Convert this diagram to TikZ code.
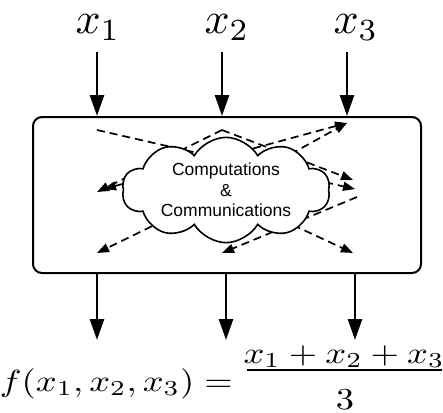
\documentclass[tikz,border=0pt]{standalone}
\usepackage{graphicx}
\usepackage{fontspec}
\newfontfamily\cloudfont{Liberation Sans}
\usetikzlibrary{arrows.meta,shapes.symbols}
\tikzset{
  bigarrow/.style={line width=2.6pt,-{Triangle[length=21pt,width=14pt]}},
  commline/.style={line width=1.7pt,dash pattern=on 8pt off 5pt},
  commtip/.style={-{Triangle[length=12pt,width=9pt]}},
  mainbox/.style={draw,line width=2pt,rounded corners=9pt},
  biglabel/.style={inner sep=0pt},
  formula/.style={inner sep=0pt},
}
\newcommand{\bigmath}[1]{\scalebox{4.4}{$#1$}}
\newcommand{\fmath}[1]{\scalebox{3.65}[3.05]{$#1$}}
\begin{document}
\begin{tikzpicture}[x=1pt,y=-1pt]
\useasboundingbox (0,0) rectangle (443,412);
% box
\draw[mainbox] (33,117) rectangle (421,273);
% labels
\node[biglabel,anchor=base] (x1) at (98,34) {\bigmath{x_1}};
\node[biglabel,anchor=base] (x2) at (227,34) {\bigmath{x_2}};
\node[biglabel,anchor=base] (x3) at (356,34) {\bigmath{x_3}};
% top arrow coordinates
\coordinate (a1s) at (97,52);  \coordinate (a1e) at (97,116);
\coordinate (a2s) at (222,52); \coordinate (a2e) at (222,116);
\coordinate (a3s) at (347,52); \coordinate (a3e) at (347,116);
\draw[bigarrow] (a1s) -- (a1e);
\draw[bigarrow] (a2s) -- (a2e);
\draw[bigarrow] (a3s) -- (a3e);
% bottom arrows
\coordinate (b1s) at (97,274);  \coordinate (b1e) at (97,340);
\coordinate (b2s) at (226,274); \coordinate (b2e) at (226,340);
\coordinate (b3s) at (355,274); \coordinate (b3e) at (355,340);
\draw[bigarrow] (b1s) -- (b1e);
\draw[bigarrow] (b2s) -- (b2e);
\draw[bigarrow] (b3s) -- (b3e);
% communication points
\coordinate (tl) at (97,130);
\coordinate (tm) at (222,130);
\coordinate (tr) at (347,123);
\coordinate (lm) at (97,192);
\coordinate (lm2) at (104,189);
\coordinate (rm1) at (353,180);
\coordinate (rm2) at (355,189);
\coordinate (rm3) at (357,197);
\coordinate (hub) at (222,192);
\coordinate (bl) at (97,253);
\coordinate (bm) at (222,253);
\coordinate (br) at (353,253);
\draw[commline,commtip] (tl) -- (rm2);
\draw[commline,commtip] (tm) -- (rm1);
\draw[commline,commtip] (tm) -- (lm);
\draw[commline,{Triangle[length=12pt,width=9pt]}-{Triangle[length=12pt,width=9pt]}] (lm2) -- (tr);
\draw[commline,commtip] (hub) -- (tr);
\draw[commline,commtip] (rm3) -- (bm);
\draw[commline,commtip] (hub) -- (bl);
\draw[commline,commtip] (hub) -- (br);
% cloud
\node[cloud,draw,fill=white,line width=1.6pt,cloud puffs=10,cloud puff arc=120,
      cloud ignores aspect,minimum width=208pt,minimum height=100pt,inner sep=0pt,
      align=center,font=\cloudfont\fontsize{17.5}{20.5}\selectfont] (cl) at (226,190)
      {Computations\\\&\\Communications};
% formula
\node[formula,anchor=base east] (lhs) at (233,391) {\fmath{f(x_1,x_2,x_3)=}};
\node[formula,anchor=base] (num) at (344,363) {\fmath{x_1+x_2+x_3}};
\node[formula,anchor=base] (den) at (345,409) {\fmath{3}};
\coordinate (barl) at (247,370);
\coordinate (barr) at (442,370);
\draw[line width=1.4pt] (barl) -- (barr);
\end{tikzpicture}
\end{document}
